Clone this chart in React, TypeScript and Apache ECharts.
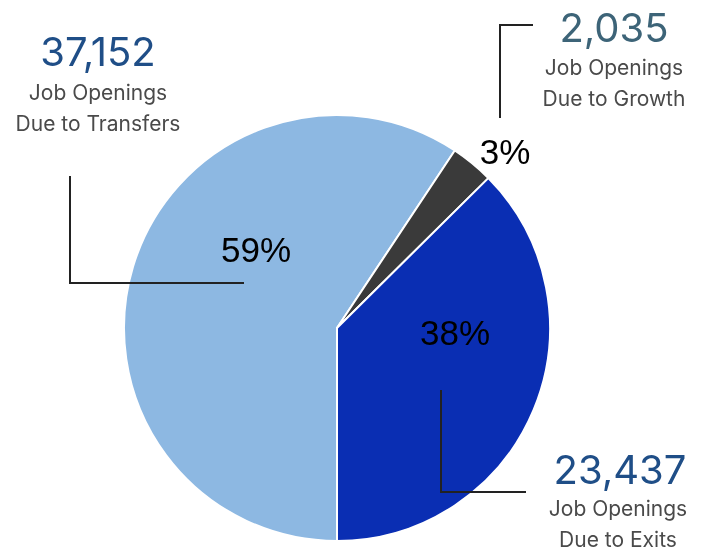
import React, { useEffect, useRef } from "react";
import * as echarts from "echarts";

const categories = ["Transfers", "Growth", "Exits"];
const values = [37152, 2035, 23437];
const sliceColors = ["#8db8e2", "#3a3a3a", "#0a2eb3"];
const numberColors = ["#1f4e87", "#3d6478", "#1f4e87"];

function roundPercents(vals: number[]): number[] {
  const total = vals.reduce((a, b) => a + b, 0);
  const raw = vals.map((v) => (v / total) * 100);
  const floors = raw.map((r) => Math.floor(r));
  let rem = 100 - floors.reduce((a, b) => a + b, 0);
  const order = raw
    .map((r, i) => ({ i, f: r - Math.floor(r) }))
    .sort((a, b) => b.f - a.f);
  for (let k = 0; k < rem; k++) floors[order[k].i] += 1;
  return floors;
}

export default function App() {
  const ref = useRef<HTMLDivElement>(null);
  useEffect(() => {
    if (!ref.current) return;
    const chart = echarts.init(ref.current, undefined, { renderer: "svg" });
    const pct = roundPercents(values).map((p) => p + "%");
    const fmt = (v: number) => v.toLocaleString("en-US");
    const font = "Inter, 'Noto Sans', sans-serif";
    const subFont = "Inter, 'Noto Sans', sans-serif";
    const pctFont = "'Liberation Sans', Arial, sans-serif";

    // annotation anchor positions (layout only)
    const pctPos = [
      [256, 249],
      [505, 151],
      [455, 332],
    ];
    const numPos = [
      [98, 51],
      [614, 27],
      [620, 469],
    ];
    const line1Pos = [
      [98, 92],
      [614, 67],
      [618, 508],
    ];
    const line2Pos = [
      [98, 123],
      [614, 98],
      [618, 539],
    ];
    const leaders = [
      [[70, 176], [70, 283], [244, 283]],
      [[500, 118], [500, 25], [533, 25]],
      [[441, 390], [441, 492], [526, 492]],
    ];

    const graphics: any[] = [];
    categories.forEach((c, i) => {
      graphics.push({
        type: "polyline",
        shape: { points: leaders[i] },
        style: { stroke: "#222222", lineWidth: 2, fill: "none" },
        z: 10,
      });
      graphics.push({
        type: "text",
        x: pctPos[i][0],
        y: pctPos[i][1],
        style: {
          text: pct[i],
          font: `35px ${pctFont}`,
          fill: "#000000",
          textAlign: "center",
          textVerticalAlign: "middle",
        },
        z: 10,
      });
      graphics.push({
        type: "text",
        x: numPos[i][0],
        y: numPos[i][1],
        style: {
          text: fmt(values[i]),
          font: `40px ${font}`,
          fill: numberColors[i],
          textAlign: "center",
          textVerticalAlign: "middle",
        },
        z: 10,
      });
      graphics.push({
        type: "text",
        x: line1Pos[i][0],
        y: line1Pos[i][1],
        style: {
          text: "Job Openings",
          font: `21px ${subFont}`,
          fill: "#4a4a4a",
          textAlign: "center",
          textVerticalAlign: "middle",
        },
        z: 10,
      });
      graphics.push({
        type: "text",
        x: line2Pos[i][0],
        y: line2Pos[i][1],
        style: {
          text: "Due to " + c,
          font: `21px ${subFont}`,
          fill: "#4a4a4a",
          textAlign: "center",
          textVerticalAlign: "middle",
        },
        z: 10,
      });
    });

    chart.setOption({
      animation: false,
      series: [
        {
          type: "pie",
          center: [337, 328],
          radius: 213,
          startAngle: -90,
          clockwise: true,
          label: { show: false },
          labelLine: { show: false },
          itemStyle: { borderColor: "#ffffff", borderWidth: 2 },
          emphasis: { disabled: true },
          data: categories.map((c, i) => ({
            name: c,
            value: values[i],
            itemStyle: { color: sliceColors[i] },
          })),
        },
      ],
      graphic: graphics,
    });
    return () => chart.dispose();
  }, []);
  return (
    <div
      ref={ref}
      style={{ position: "fixed", left: 0, top: 0, width: 707, height: 550 }}
    />
  );
}
